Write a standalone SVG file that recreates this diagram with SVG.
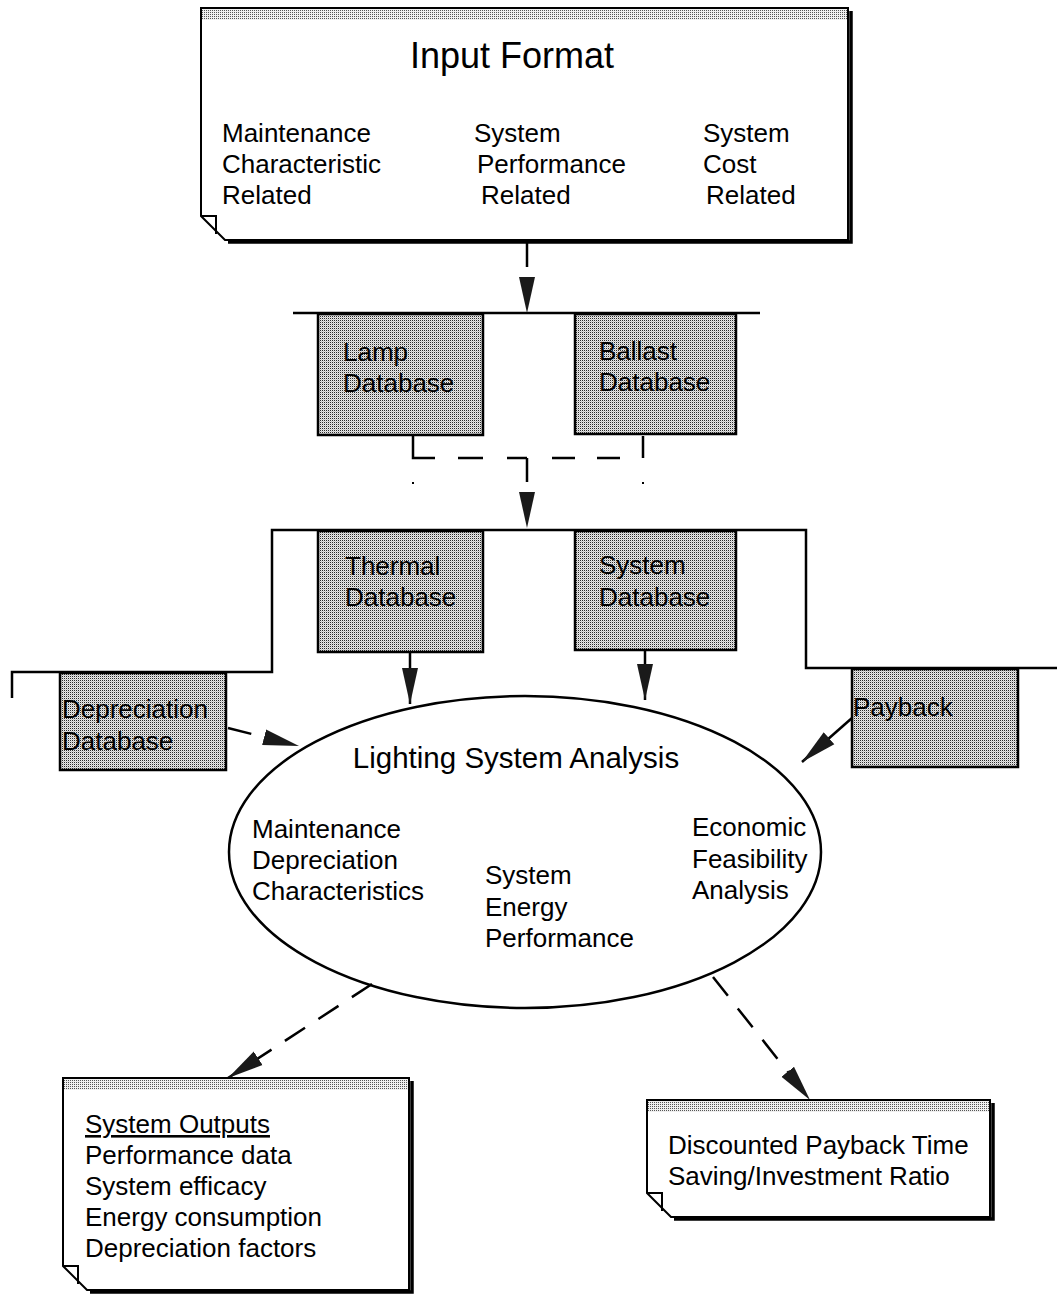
<svg xmlns="http://www.w3.org/2000/svg" width="1057" height="1298" viewBox="0 0 1057 1298">
<defs>
<pattern id="st" width="2" height="2" patternUnits="userSpaceOnUse"><rect width="2" height="2" fill="#e8e8e8"/><rect width="1" height="1" fill="#2a2a2a"/><rect x="1" y="1" width="1" height="1" fill="#c4c4c4"/></pattern>
<pattern id="st2" width="2" height="2" patternUnits="userSpaceOnUse"><rect width="2" height="2" fill="#f0f0f0"/><rect width="1" height="1" fill="#555"/></pattern>
<marker id="ah" markerUnits="userSpaceOnUse" markerWidth="38" markerHeight="18" refX="36" refY="9" orient="auto" viewBox="0 0 38 18"><path d="M0,1 L36,9 L0,17 Z" fill="#1a1a1a"/></marker>
</defs>
<style>
.t{font-family:"Liberation Sans",Arial,sans-serif;font-size:26px;fill:#000}
.big{font-size:36px}
.title{font-size:29.5px}
.db{fill:url(#st);stroke:#000;stroke-width:2.5}
.note{fill:#fff;stroke:#000;stroke-width:2}
.shadow{fill:none;stroke:#000;stroke-width:3.5}
.ln{fill:none;stroke:#000;stroke-width:2.5}
.dash{stroke-dasharray:24 16}
</style>
<rect width="1057" height="1298" fill="#fff"/>

<g id="connectors">
<line class="ln" x1="293" y1="313" x2="760" y2="313"/>
<path class="ln" d="M12,698 V672 H272 V530 H806 V668 H1057"/>
<line class="ln" x1="527" y1="242" x2="527" y2="313" stroke-dasharray="25 100" marker-end="url(#ah)"/>
<path class="ln" d="M413,436 V458 H643 V436" stroke-dasharray="44 23 25 24 20 25 23 22 23 23 22"/>
<line class="ln" x1="527" y1="458" x2="527" y2="528" stroke-dasharray="24 100" marker-end="url(#ah)"/>
<rect x="412" y="482" width="2" height="2" fill="#000"/>
<rect x="642" y="482" width="2" height="2" fill="#000"/>
<line class="ln" x1="410" y1="652" x2="410" y2="704" marker-end="url(#ah)"/>
<line class="ln" x1="645" y1="650" x2="645" y2="700" marker-end="url(#ah)"/>
<line class="ln" x1="228" y1="728" x2="299" y2="746" stroke-dasharray="24 100" marker-end="url(#ah)"/>
<line class="ln" x1="852" y1="718" x2="802" y2="762" marker-end="url(#ah)"/>
<line class="ln dash" x1="372" y1="984" x2="228" y2="1078" marker-end="url(#ah)"/>
<line class="ln dash" x1="713" y1="977" x2="810" y2="1100" marker-end="url(#ah)"/>
</g>

<g id="input-format">
<path class="shadow" d="M851,11 V242 H228"/>
<path class="note" d="M201,8 H848 V240 H225 L201,216 Z"/>
<rect x="202" y="9" width="645" height="11" fill="url(#st2)"/>
<path fill="none" stroke="#000" stroke-width="2" d="M201,216 H216 V234"/>
<text class="t big" x="512" y="68" text-anchor="middle">Input Format</text>
<text class="t" x="222" y="142">Maintenance</text>
<text class="t" x="222" y="173">Characteristic</text>
<text class="t" x="222" y="204">Related</text>
<text class="t" x="474" y="142">System</text>
<text class="t" x="477" y="173">Performance</text>
<text class="t" x="481" y="204">Related</text>
<text class="t" x="703" y="142">System</text>
<text class="t" x="703" y="173">Cost</text>
<text class="t" x="706" y="204">Related</text>
</g>

<g id="lamp-db">
<rect class="db" x="318" y="314" width="165" height="121"/>
<text class="t" x="343" y="361">Lamp</text>
<text class="t" x="343" y="392">Database</text>
</g>
<g id="ballast-db">
<rect class="db" x="575" y="314" width="161" height="120"/>
<text class="t" x="599" y="360">Ballast</text>
<text class="t" x="599" y="391">Database</text>
</g>
<g id="thermal-db">
<rect class="db" x="318" y="531" width="165" height="121"/>
<text class="t" x="345" y="575">Thermal</text>
<text class="t" x="345" y="606">Database</text>
</g>
<g id="system-db">
<rect class="db" x="575" y="531" width="161" height="119"/>
<text class="t" x="599" y="574">System</text>
<text class="t" x="599" y="606">Database</text>
</g>
<g id="depreciation-db">
<rect class="db" x="60" y="673" width="166" height="97"/>
<text class="t" x="62" y="718">Depreciation</text>
<text class="t" x="62" y="750">Database</text>
</g>
<g id="payback">
<rect class="db" x="852" y="669" width="166" height="98"/>
<text class="t" x="853" y="716">Payback</text>
</g>

<g id="lighting-analysis">
<ellipse cx="525" cy="852" rx="296" ry="156" fill="none" stroke="#000" stroke-width="2.5"/>
<text class="t title" x="516" y="768" text-anchor="middle">Lighting System Analysis</text>
<text class="t" x="252" y="838">Maintenance</text>
<text class="t" x="252" y="869">Depreciation</text>
<text class="t" x="252" y="900">Characteristics</text>
<text class="t" x="485" y="884">System</text>
<text class="t" x="485" y="916">Energy</text>
<text class="t" x="485" y="947">Performance</text>
<text class="t" x="692" y="836">Economic</text>
<text class="t" x="692" y="868">Feasibility</text>
<text class="t" x="692" y="899">Analysis</text>
</g>

<g id="system-outputs">
<path class="shadow" d="M412,1081 V1292 H90"/>
<path class="note" d="M63,1078 H409 V1290 H87 L63,1266 Z"/>
<rect x="64" y="1079" width="344" height="11" fill="url(#st2)"/>
<path fill="none" stroke="#000" stroke-width="2" d="M63,1266 H78 V1284"/>
<text class="t" x="85" y="1133" text-decoration="underline">System Outputs</text>
<text class="t" x="85" y="1164">Performance data</text>
<text class="t" x="85" y="1195">System efficacy</text>
<text class="t" x="85" y="1226">Energy consumption</text>
<text class="t" x="85" y="1257">Depreciation factors</text>
</g>

<g id="payback-outputs">
<path class="shadow" d="M993,1103 V1219 H674"/>
<path class="note" d="M647,1100 H990 V1217 H671 L647,1193 Z"/>
<rect x="648" y="1101" width="341" height="11" fill="url(#st2)"/>
<path fill="none" stroke="#000" stroke-width="2" d="M647,1193 H662 V1211"/>
<text class="t" x="668" y="1154">Discounted Payback Time</text>
<text class="t" x="668" y="1185">Saving/Investment Ratio</text>
</g>
</svg>
